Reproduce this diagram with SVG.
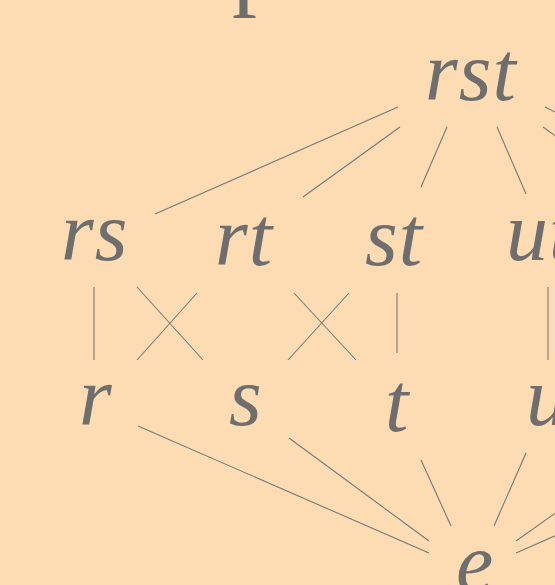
<svg xmlns="http://www.w3.org/2000/svg" width="555" height="585" viewBox="0 0 555 585">
<style>
.bg{fill:#FEDCB3}
.lbl{font-family:"Liberation Serif",serif;font-style:italic;font-size:84px;letter-spacing:1px;fill:#6e6e6e}
.ttl{font-family:"Liberation Serif",serif;font-size:100px;fill:#6e6e6e}
.e{stroke:#787878;stroke-width:1.1;fill:none}
</style>
<rect class="bg" x="0" y="0" width="555" height="585"/>
<text class="ttl" x="232" y="-3">p</text>
<g id="connectors">
<line class="e" x1="398" y1="107" x2="155" y2="214"/>
<line class="e" x1="400" y1="127" x2="303" y2="197"/>
<line class="e" x1="447" y1="127" x2="421" y2="187"/>
<line class="e" x1="497" y1="127" x2="526" y2="194"/>
<line class="e" x1="545" y1="107" x2="557" y2="113"/>
<line class="e" x1="543" y1="127" x2="557" y2="137"/>
<line class="e" x1="94" y1="287" x2="94" y2="360"/>
<line class="e" x1="137" y1="287" x2="203" y2="360"/>
<line class="e" x1="197" y1="293" x2="137" y2="360"/>
<line class="e" x1="294" y1="293" x2="356" y2="360"/>
<line class="e" x1="349" y1="293" x2="288" y2="360"/>
<line class="e" x1="397" y1="293" x2="397" y2="353"/>
<line class="e" x1="548" y1="287" x2="548" y2="360"/>
<line class="e" x1="138" y1="426" x2="429" y2="553"/>
<line class="e" x1="289" y1="438" x2="429" y2="541"/>
<line class="e" x1="421" y1="460" x2="451" y2="526"/>
<line class="e" x1="526" y1="453" x2="494" y2="526"/>
<line class="e" x1="516" y1="541" x2="557" y2="512"/>
<line class="e" x1="516" y1="553" x2="557" y2="535"/>
</g>
<g id="n-rst"><text class="lbl" x="425" y="100">rst</text></g>
<g id="n-rs"><text class="lbl" x="61" y="260">rs</text></g>
<g id="n-rt"><text class="lbl" x="215" y="265">rt</text></g>
<g id="n-st"><text class="lbl" x="365" y="265">st</text></g>
<g id="n-ut"><text class="lbl" x="506" y="260">ut</text></g>
<g id="n-r"><text class="lbl" x="79" y="425">r</text></g>
<g id="n-s"><text class="lbl" x="229" y="425">s</text></g>
<g id="n-t"><text class="lbl" x="385" y="431">t</text></g>
<g id="n-u"><text class="lbl" x="526" y="425">u</text></g>
<g id="n-e"><text class="lbl" x="456" y="591">e</text></g>
</svg>
